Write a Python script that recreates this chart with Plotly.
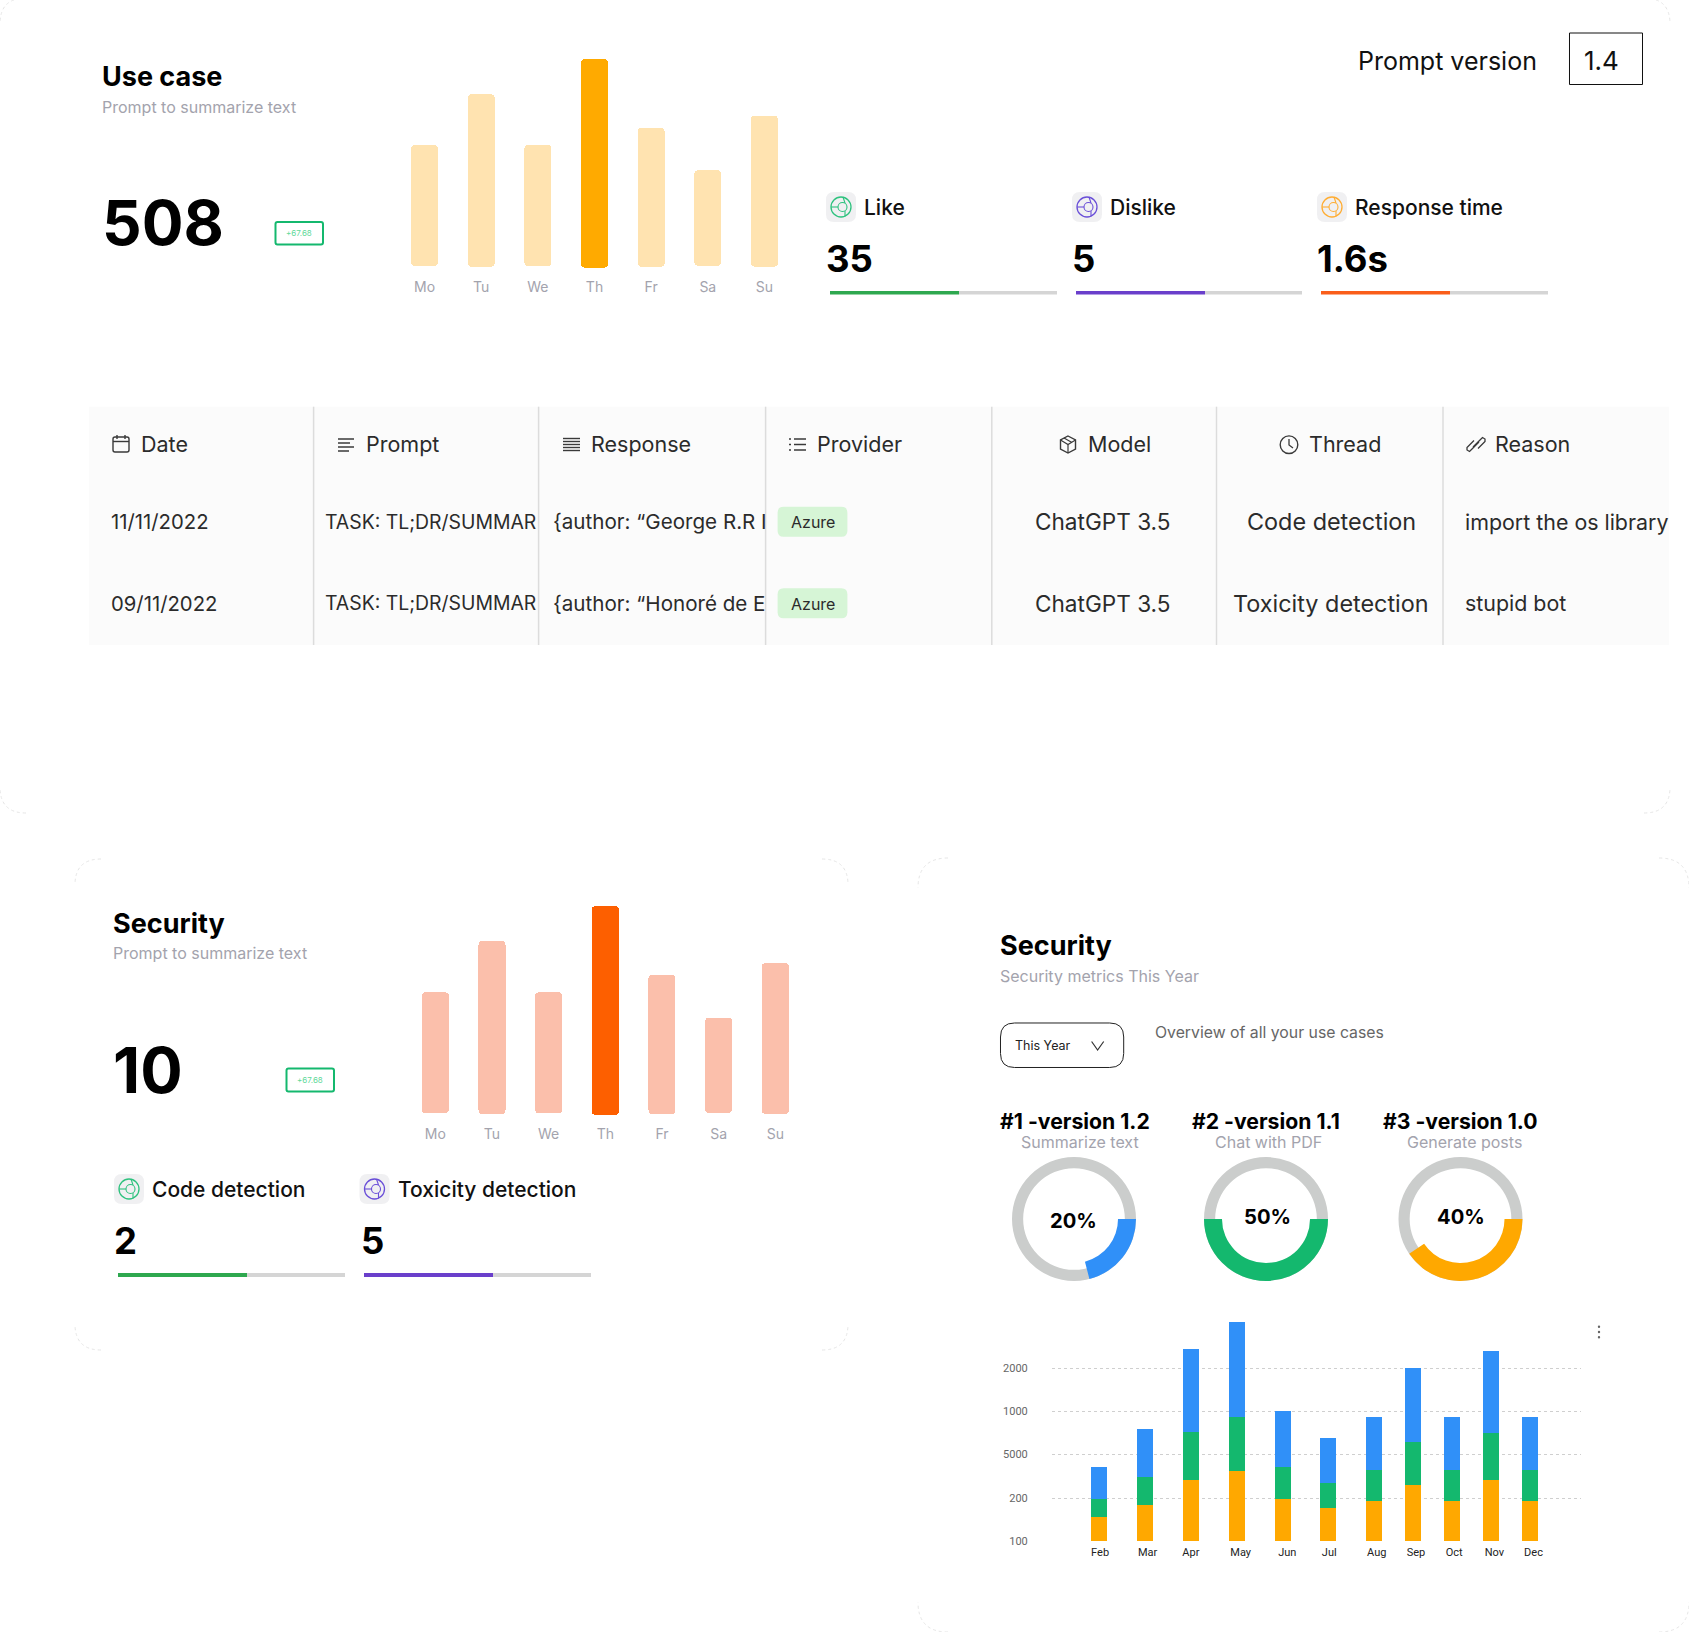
import plotly.graph_objects as go

W, H = 1689, 1632
FONT = "Inter"
MUTED = "#a3a3ad"

# ---------- data ----------
days = ["Mo", "Tu", "We", "Th", "Fr", "Sa", "Su"]
usecase_values = [121, 172.4, 121, 208.7, 138.7, 95.4, 151]
usecase_base = [0.7, 0, 0.7, -1, 0, 1, 0]
security_values = [121, 173, 121, 209, 139, 95.4, 151]
security_base = [0.7, 0, 0.7, -1, 0, 1, 0]

progress_labels = ["Like", "Dislike", "Response time", "Code detection", "Toxicity detection"]
progress_numbers = ["35", "5", "1.6s", "2", "5"]
progress_fill = [57, 57, 57, 57, 57]

table_headers = ["Date", "Prompt", "Response", "Provider", "Model", "Thread", "Reason"]
dates = ["11/11/2022", "09/11/2022"]
prompts = ["TASK: TL;DR/SUMMAR", "TASK: TL;DR/SUMMAR"]
responses = ["{author: “George R.R I", "{author: “Honoré de E"]
providers = ["Azure", "Azure"]
models = ["ChatGPT 3.5", "ChatGPT 3.5"]
threads = ["Code detection", "Toxicity detection"]
reasons = ["import the os library", "stupid bot"]

version_titles = ["#1 -version 1.2", "#2 -version 1.1", "#3 -version 1.0"]
version_subs = ["Summarize text", "Chat with PDF", "Generate posts"]
version_labels = ["20%", "50%", "40%"]
version_arcs = [21, 50, 40.5]

months = ["Feb", "Mar", "Apr", "May", "Jun", "Jul", "Aug", "Sep", "Oct", "Nov", "Dec"]
month_slots = [0, 1.004, 1.998, 2.996, 3.99, 4.97, 5.96, 6.81, 7.66, 8.51, 9.36]
month_label_slots = [0.03, 1.06, 2.0, 3.08, 4.09, 5.0, 6.03, 6.88, 7.71, 8.58, 9.43]
orange_values = [24, 36, 61.3, 70.3, 42.3, 33, 40.3, 56, 40.3, 61.3, 40.3]
green_values = [18.3, 28, 48, 54, 32, 25.7, 31.3, 43, 31.3, 47, 31.3]
blue_values = [31.7, 48, 82.7, 94.7, 56, 44.7, 53, 74.7, 53, 82.3, 53]
y_tick_vals = [0, 43, 87, 130, 173]
y_tick_text = ["100", "200", "5000", "1000", "2000"]


# ---------- helpers ----------
def X(p):
    return p / W


def Y(p):
    return 1 - p / H


shapes, annotations = [], []
layout = {}
axis_n = [0]


def new_axes(x0, x1, ytop, ybot, xopt, yopt):
    axis_n[0] += 1
    n = axis_n[0]
    sx = "" if n == 1 else str(n)
    layout[f"xaxis{sx}"] = dict(domain=[X(x0), X(x1)], anchor=f"y{sx}", fixedrange=True, **xopt)
    layout[f"yaxis{sx}"] = dict(domain=[Y(ybot), Y(ytop)], anchor=f"x{sx}", fixedrange=True, **yopt)
    return f"x{sx}", f"y{sx}"


def text(x, y, s, size=16, color="#000", weight=400, anchor="left", family=FONT):
    if anchor == "left":
        x -= 2.7
    annotations.append(dict(
        x=X(x), y=Y(y), xref="paper", yref="paper", text=s, showarrow=False,
        xanchor=anchor, yanchor="middle", align=anchor,
        font=dict(family=family, size=size, color=color, weight=weight),
    ))


def rrect_path(x0, y0, x1, y1, r):
    p = lambda a, b: f"{X(a):.6f},{Y(b):.6f}"
    return (f"M{p(x0 + r, y0)} L{p(x1 - r, y0)} Q{p(x1, y0)} {p(x1, y0 + r)} "
            f"L{p(x1, y1 - r)} Q{p(x1, y1)} {p(x1 - r, y1)} L{p(x0 + r, y1)} "
            f"Q{p(x0, y1)} {p(x0, y1 - r)} L{p(x0, y0 + r)} Q{p(x0, y0)} {p(x0 + r, y0)} Z")


def rrect(x0, y0, x1, y1, r, fill="rgba(0,0,0,0)", line="rgba(0,0,0,0)", lw=0):
    shapes.append(dict(type="path", xref="paper", yref="paper", path=rrect_path(x0, y0, x1, y1, r),
                       fillcolor=fill, line=dict(color=line, width=lw), layer="below"))


def polyline(pts, color="#333", lw=1.4, close=False, dash="solid"):
    d = "M" + " L".join(f"{X(a):.6f},{Y(b):.6f}" for a, b in pts) + (" Z" if close else "")
    shapes.append(dict(type="path", xref="paper", yref="paper", path=d, line=dict(color=color, width=lw, dash=dash)))


def circle(cx, cy, r, color="#333", lw=1.4, fill="rgba(0,0,0,0)"):
    shapes.append(dict(type="circle", xref="paper", yref="paper", x0=X(cx - r), x1=X(cx + r),
                       y0=Y(cy + r), y1=Y(cy - r), line=dict(color=color, width=lw), fillcolor=fill))


def corner(x, y, sx, sy, r):
    a, b, c = f"{X(x + sx * r):.6f},{Y(y):.6f}", f"{X(x):.6f},{Y(y):.6f}", f"{X(x):.6f},{Y(y + sy * r):.6f}"
    shapes.append(dict(type="path", xref="paper", yref="paper", path=f"M{a} Q{b} {c}",
                       line=dict(color="#e6e6e6", width=1, dash="dot")))


def card(x0, y0, x1, y1, r=26):
    corner(x0, y0, 1, 1, r)
    corner(x1, y0, -1, 1, r)
    corner(x0, y1, 1, -1, r)
    corner(x1, y1, -1, -1, r)


fig = go.Figure()


def week_chart(x0, base_y, values, base, pale, strong):
    colors = [strong if d == "Th" else pale for d in days]
    # domain runs 5.3 px under the baseline
    xa, ya = new_axes(
        x0, x0 + 396.6, base_y - 216.7, base_y + 5.3,
        dict(type="category", categoryorder="array", categoryarray=days, showgrid=False, zeroline=False,
             showline=False, ticks="outside", ticklen=1.7, tickcolor="rgba(0,0,0,0)",
             tickfont=dict(family=FONT, size=14, color=MUTED)),
        dict(range=[-5.3, 216.7], visible=False),
    )
    fig.add_trace(go.Bar(x=days, y=values, base=base, width=0.477, xaxis=xa, yaxis=ya,
                         marker=dict(color=colors, cornerradius=4, line=dict(width=0))))


def progress(x0, x1, y, fill, color):
    xa, ya = new_axes(x0, x1, y - 2, y + 2, dict(range=[0, 100], visible=False),
                      dict(range=[-0.5, 0.5], visible=False))
    fig.add_trace(go.Bar(x=[fill], y=[0], orientation="h", width=1, xaxis=xa, yaxis=ya,
                         marker=dict(color=color, line=dict(width=0))))
    fig.add_trace(go.Bar(x=[100 - fill], y=[0], orientation="h", width=1, xaxis=xa, yaxis=ya,
                         marker=dict(color="#d5d5d5", line=dict(width=0))))


def metric_icon(x, ytop, color):
    rrect(x, ytop, x + 30, ytop + 30, 8, fill="#f0f0f2")
    cx, cy = x + 15, ytop + 15
    circle(cx, cy, 10, color, 1.3)
    circle(cx + 1.5, cy, 4.5, color, 1.1)
    polyline([(cx - 10, cy), (cx - 3, cy)], color, 1.1)
    polyline([(cx + 4, cy - 4), (cx + 2, cy - 10)], color, 1.1)
    polyline([(cx + 4, cy + 4), (cx + 4, cy + 9.5)], color, 1.1)


def metric(i, icon_x, icon_top, text_y, num_x, num_y, bar_x0, bar_x1, bar_y, color, icon_color):
    metric_icon(icon_x, icon_top, icon_color)
    text(icon_x + 39, text_y, progress_labels[i], size=21, color="#111", weight=500)
    text(num_x, num_y, progress_numbers[i], size=36.5, weight=700)
    progress(bar_x0, bar_x1, bar_y, progress_fill[i], color)


def badge(x0, y0, x1, y1):
    rrect(x0, y0, x1, y1, 2, line="#14b86e", lw=2)
    text((x0 + x1) / 2, (y0 + y1) / 2, "+67.68", size=8, color="#5fd99a", anchor="center")


# ---------- cards ----------
card(0, -2, 1670, 813, 26)
card(75, 859, 848, 1350, 26)
card(918, 858, 1689, 1632, 30)

# ---------- Use case ----------
text(103, 76, "Use case", size=27, weight=700)
text(103, 106.5, "Prompt to summarize text", size=16, color=MUTED)
text(103, 223, "508", size=62, weight=700)
badge(275.5, 222, 323, 244.5)
week_chart(396.2, 266.7, usecase_values, usecase_base, "#ffe3b0", "#ffaa00")

text(1358.5, 61, "Prompt version", size=25, color="#111")
rrect(1569.5, 33, 1642.5, 84.5, 0, line="#111", lw=1)
text(1585, 61, "1.4", size=26, color="#111")

metric(0, 826, 192, 207, 827, 259, 830, 1057, 292.5, "#2ea84f", "#2ec27e")
metric(1, 1072, 192, 207, 1073, 259, 1075.5, 1302, 292.5, "#6a3fcb", "#6a4fd8")
metric(2, 1317, 192, 207, 1317.5, 259, 1321, 1548, 292.5, "#fa5e1a", "#ffad33")

# ---------- table ----------
rrect(89, 406.7, 1669, 645, 0, fill="#fbfbfb")
for vx in [313.6, 538.6, 765.6, 991.8, 1216.5, 1443]:
    polyline([(vx, 406.7), (vx, 645)], "#dcdcdc", 1.5)
hdr_x = [141.6, 366.6, 591.6, 818, 1088.6, 1310, 1495.7]
for hx, t in zip(hdr_x, table_headers):
    text(hx, 444.3, t, size=21.5, color="#2b2b2b")
row_y = [521.7, 603.3]
for i, ry in enumerate(row_y):
    text(111.5, ry, dates[i], size=20.3, color="#2b2b2b")
    text(326, ry, prompts[i], size=19.4, color="#2b2b2b")
    text(553.7, ry, responses[i], size=20.6, color="#2b2b2b")
    rrect(777.6, ry - 15, 847.4, ry + 15, 6, fill="#d6f5d6")
    text(812.5, ry + 0.5, providers[i], size=16, color="#2b2b2b", anchor="center")
    text(1103, ry, models[i], size=22.6, color="#2b2b2b", anchor="center")
    text(1331, ry, threads[i], size=23.4, color="#2b2b2b", anchor="center")
    text(1466, ry, reasons[i], size=21.4, color="#2b2b2b")

ic = "#3a3a3a"
# calendar
rrect(113, 437, 129, 452, 2)
shapes[-1].update(layer="above", line=dict(color=ic, width=1.4))
polyline([(113, 441.5), (129, 441.5)], ic)
polyline([(117, 435), (117, 439)], ic)
polyline([(125, 435), (125, 439)], ic)
# prompt lines
for ly, lx in zip([439, 443, 447, 451], [354, 350, 354, 349]):
    polyline([(338, ly), (lx, ly)], ic, 1.5)
# response lines
for ly in [438.5, 441.5, 444.5, 447.5, 450.5]:
    polyline([(563, ly), (580, ly)], ic, 1.4)
# provider list
for ly in [439, 444.5, 450]:
    polyline([(789, ly), (791, ly)], ic, 1.5)
    polyline([(794, ly), (806, ly)], ic, 1.5)
# model box
polyline([(1068, 436), (1075.5, 440), (1075.5, 449), (1068, 453), (1060.5, 449), (1060.5, 440)], ic, 1.4, True)
polyline([(1060.5, 440), (1068, 444.5), (1075.5, 440)], ic, 1.2)
polyline([(1068, 444.5), (1068, 453)], ic, 1.2)
polyline([(1064, 438), (1071.5, 442.3)], ic, 1.2)
# clock
circle(1289, 444.7, 8.8, ic, 1.4)
polyline([(1289, 439), (1289, 445), (1293, 448)], ic, 1.3)
# link
polyline([(1473, 447), (1480, 440), (1482.5, 437.5), (1485, 439), (1485, 441.5), (1478, 448.5)], ic, 1.3)
polyline([(1479, 442), (1472, 449), (1469.5, 451.5), (1467, 450), (1467, 447.5), (1474, 440.5)], ic, 1.3)

# ---------- Security (left) ----------
text(114, 923, "Security", size=27, weight=700)
text(114, 953, "Prompt to summarize text", size=16, color=MUTED)
text(114, 1070, "10", size=63, weight=700)
badge(286.5, 1068.5, 334, 1091.5)
week_chart(407, 1114, security_values, security_base, "#fbbfab", "#fd5f00")
metric(3, 114, 1174, 1189, 115, 1241, 118, 345, 1275, "#2ea84f", "#2ec27e")
metric(4, 359.5, 1174, 1189, 361.5, 1241, 363.5, 591, 1275, "#6a3fcb", "#6a4fd8")

# ---------- Security (right) ----------
text(1000.5, 945, "Security", size=27, weight=700)
text(1000.5, 976, "Security metrics This Year", size=16, color=MUTED)
rrect(1000.5, 1023, 1123.7, 1067.5, 14, line="#222", lw=1)
text(1015.5, 1045.7, "This Year", size=12.5, color="#222")
polyline([(1091.6, 1041.5), (1097.6, 1050), (1103.7, 1041.5)], "#333", 1.2)
text(1155.8, 1032, "Overview of all your use cases", size=15.8, color="#666")

title_x = [1000.5, 1192.5, 1384]
sub_x = [1079.5, 1268.8, 1464]
donut_cx = [1074, 1266, 1460.5]
label_pos = [(1073.5, 1220), (1267, 1216.7), (1461, 1216.7)]
donut_colors = ["#3090f8", "#14b86e", "#ffa800"]
R = 62
cy = 1219
for i in range(3):
    text(title_x[i], 1120.7, version_titles[i], size=21.2, weight=700)
    text(sub_x[i], 1142, version_subs[i], size=16, color=MUTED, anchor="center")
    dom = dict(x=[X(donut_cx[i] - R), X(donut_cx[i] + R)], y=[Y(cy + R), Y(cy - R)])
    fig.add_trace(go.Pie(values=[100], hole=0.82, domain=dom, sort=False, textinfo="none", hoverinfo="skip",
                         marker=dict(colors=["#cbcdcc"], line=dict(width=0))))
    fig.add_trace(go.Pie(values=[version_arcs[i], 100 - version_arcs[i]], hole=0.71, domain=dom, sort=False,
                         rotation=90, direction="clockwise", textinfo="none", hoverinfo="skip",
                         marker=dict(colors=[donut_colors[i], "rgba(0,0,0,0)"], line=dict(width=0))))
    text(label_pos[i][0], label_pos[i][1], version_labels[i], size=20.2, weight=700, anchor="center")

# stacked chart
xa, ya = new_axes(
    1052, 1581, 1300, 1541.3,
    dict(range=[-1.013, 10.46], tickmode="array", tickvals=month_label_slots, ticktext=months, showgrid=False,
         zeroline=False, showline=False, ticks="outside", ticklen=0, tickcolor="rgba(0,0,0,0)",
         tickfont=dict(family="Roboto", size=11, color="#222")),
    dict(range=[0, 241.3], tickmode="array", tickvals=y_tick_vals, ticktext=y_tick_text, showgrid=True,
         gridcolor="#cfcfcf", griddash="dot", gridwidth=1, zeroline=False, showline=False, ticks="outside",
         ticklen=21, tickcolor="rgba(0,0,0,0)", tickfont=dict(family="Roboto", size=11, color="#666")),
)
for vals, col in [(orange_values, "#ffa800"), (green_values, "#14b86e"), (blue_values, "#3090f8")]:
    fig.add_trace(go.Bar(x=month_slots, y=vals, width=0.347, xaxis=xa, yaxis=ya,
                         marker=dict(color=col, line=dict(width=0))))
for dy in [1326.7, 1332, 1337.3]:
    circle(1599, dy, 1.2, "#666", 0, "#666")

fig.update_layout(
    width=W, height=H, margin=dict(l=0, r=0, t=0, b=0, autoexpand=False), paper_bgcolor="white",
    plot_bgcolor="rgba(0,0,0,0)", showlegend=False, barmode="stack",
    shapes=shapes, annotations=annotations, **layout,
)
fig.write_html("out.html", config=dict(displayModeBar=False),
               post_script="document.body.style.margin='0';document.documentElement.style.overflow='hidden';")
